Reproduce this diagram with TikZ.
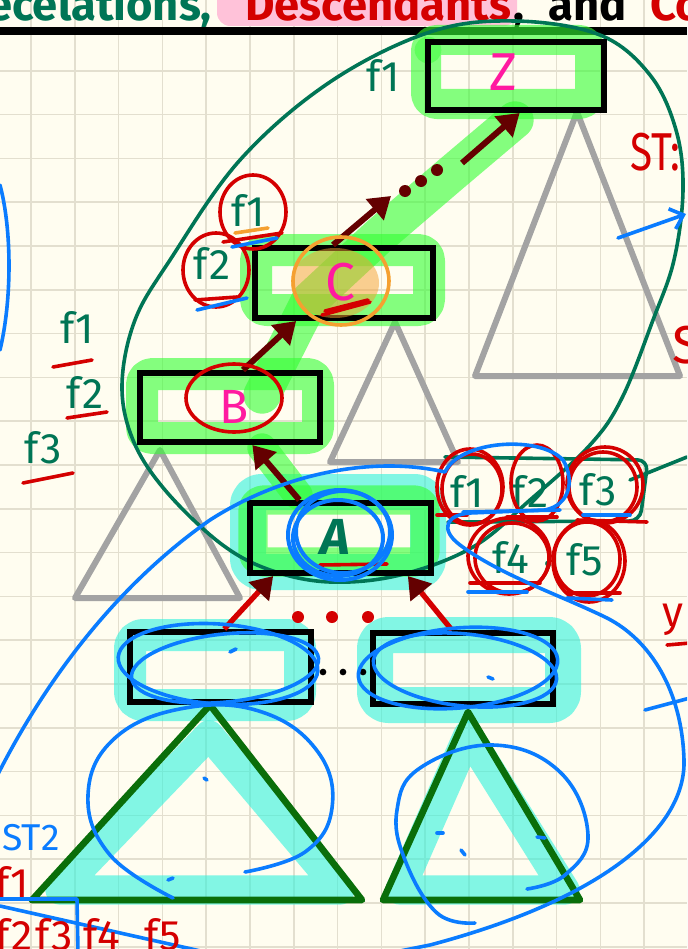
\documentclass[tikz,border=0pt]{standalone}
\usepackage{fontspec}
\setmainfont{Fira Sans}
\usetikzlibrary{arrows.meta,calc}
\definecolor{bg}{HTML}{FFFDF0}
\definecolor{gridc}{HTML}{E3DFCF}
\definecolor{hlg}{HTML}{33FF33}
\definecolor{hlc}{HTML}{30F2DC}
\definecolor{tealc}{HTML}{007555}
\definecolor{redc}{HTML}{D40000}
\definecolor{darkred}{HTML}{640000}
\definecolor{bluec}{HTML}{0A7CFF}
\definecolor{magc}{HTML}{FF1AA0}
\definecolor{grayc}{HTML}{A3A3A3}
\definecolor{dgreen}{HTML}{0A6E0A}
\definecolor{orangec}{HTML}{F5A030}
\definecolor{pinkc}{HTML}{FFC2D9}
\begin{document}
\begin{tikzpicture}[x=0.75pt,y=-0.75pt,
  gridline/.style={draw=gridc,line width=1.1pt},
  boxnode/.style={draw=black,line width=4.5pt,inner sep=0pt},
  hlgreen/.style={draw=hlg,opacity=0.6,line join=round,line cap=round},
  hlcyan/.style={draw=hlc,opacity=0.6,line join=round,line cap=round},
  graytri/.style={draw=grayc,line width=4.5pt,line join=round},
  greentri/.style={draw=dgreen,line width=5pt,line join=round},
  arrd/.style={draw=darkred,line width=4.5pt,-{Triangle[length=16pt,width=20pt]}},
  arrl/.style={draw=redc,line width=4pt,-{Triangle[length=16pt,width=20pt,color=darkred]}},
  bl/.style={draw=bluec,line width=2.7pt,line cap=round,line join=round},
  rc/.style={draw=redc,line width=2.7pt,line cap=round},
  tl/.style={draw=tealc,line width=2.7pt,line cap=round,line join=round},
  lbl/.style={inner sep=0pt,font=\fontsize{32}{32}\selectfont},
  big/.style={inner sep=0pt,font=\fontsize{40}{40}\selectfont},
  hdr/.style={inner sep=0pt,font=\fontsize{34}{34}\selectfont\bfseries},
  dotr/.style={circle,fill=#1,inner sep=0pt,minimum size=9pt},
]
\useasboundingbox (0,0) rectangle (687,949);
\clip (0,0) rectangle (687,949);
\fill[bg] (0,0) rectangle (687,949);
% grid
\foreach \i in {0,...,15} \draw[gridline] ({31+43.8*\i},0) -- ({31+43.8*\i},949);
\foreach \i in {1,...,21} \draw[gridline] (0,{27+43.8*\i}) -- (687,{27+43.8*\i});
% header
\fill[pinkc,rounded corners=10pt] (217,-20) rectangle (517,26);
\node[hdr,text=tealc,anchor=base east] (h1) at (212,21) {ecelations,};
\node[hdr,text=redc,anchor=base west] (h2) at (245,21) {Descendants};
\node[hdr,text=black,anchor=base west] (h3) at (513,21) {,};
\node[hdr,text=black,anchor=base west] (h4) at (548,21) {and};
\node[hdr,text=redc,anchor=base west] (h5) at (650,21) {Co};
\draw[black,line width=5.5pt] (0,31) -- (687,31);
% gray triangles
\draw[graytri] (160,450) -- (75,598) -- (240,598) -- cycle;
\draw[graytri] (395,322) -- (330,462) -- (458,462) -- cycle;
\draw[graytri] (577,112) -- (475,376) -- (680,376) -- cycle;
% cyan highlights
\draw[hlcyan,line width=27pt,rounded corners=10pt] (248,492) rectangle (428,572);
\draw[hlcyan,line width=24pt,rounded corners=10pt] (130,635) rectangle (300,705);
\draw[hlcyan,line width=27pt,rounded corners=10pt] (375,635) rectangle (563,705);
\draw[hlcyan,line width=22pt] (209,735) -- (60,890) -- (340,890) -- cycle;
\draw[hlcyan,line width=22pt] (468,735) -- (400,890) -- (565,890) -- cycle;
% green highlights
\draw[hlgreen,line width=22.5pt,rounded corners=8pt] (426,40) rectangle (590,104);
\draw[hlgreen,line width=24pt,rounded corners=8pt] (256,250) rectangle (429,310);
\draw[hlgreen,line width=24pt,rounded corners=8pt] (142,374) rectangle (318,438);
\draw[hlgreen,line width=22pt,rounded corners=8pt] (253,500) rectangle (425,562);
\draw[hlgreen,line width=28pt] (262,395) -- (310,300) -- (380,235) -- (450,175) -- (515,120);
\draw[hlgreen,line width=22pt] (262,448) -- (298,495);
\fill[hlg,opacity=0.45] (428,50) circle (10pt);
% teal ellipse
\draw[tl] plot[smooth cycle,tension=0.6] coordinates {(515,21) (600,35) (650,75) (676,130) (683,190) (674,260) (653,320) (622,398) (590,445) (530,500) (473,547) (400,575) (330,582) (270,570) (220,543) (165,490) (133,440) (122,385) (135,320) (170,260) (240,160) (330,82) (430,32)};
\draw[tl] (630,480) -- (687,457);
\draw[tl,rounded corners=8pt] (445,457) -- (648,460) -- (640,521) -- (448,522);
% boxes
\node[boxnode,minimum width=132pt,minimum height=51pt] (Z) at (516,76) {};
\node[boxnode,minimum width=133.5pt,minimum height=52.5pt] (C) at (344,283) {};
\node[boxnode,minimum width=135pt,minimum height=51.75pt] (B) at (230,407.5) {};
\node[boxnode,minimum width=135.75pt,minimum height=52.5pt] (A) at (340.5,538) {};
\node[boxnode,minimum width=135.75pt,minimum height=52.5pt] (L) at (220.5,667) {};
\node[boxnode,minimum width=135pt,minimum height=53.25pt] (R) at (463,668.5) {};
% green triangles
\draw[greentri] (210,705) -- (32,900) -- (362,900) -- cycle;
\draw[greentri] (468,712) -- (383,900) -- (580,900) -- cycle;
% orange fill on C
\fill[orangec,opacity=0.5] (335,283) ellipse [x radius=44, y radius=35];
% arrows
\coordinate (cd) at (391,196);
\coordinate (zd) at (462,163);
\draw[arrl] ($(L.north west)!0.52!(L.north east)$) -- ($(A.south west)!0.14!(A.south east)$);
\draw[arrl] ($(R.north west)!0.44!(R.north east)$) -- ($(A.south west)!0.86!(A.south east)$);
\draw[arrd] ($(A.north west)!0.28!(A.north east)$) -- ($(B.south west)!0.62!(B.south east)$);
\draw[arrd] ($(B.north west)!0.57!(B.north east)$) -- ($(C.south west)!0.24!(C.south east)$);
\draw[arrd] ($(C.north west)!0.44!(C.north east)$) -- (cd);
\draw[arrd] (zd) -- ($(Z.south west)!0.52!(Z.south east)$);
\node[dotr=darkred] (d1) at (405,191) {};
\node[dotr=darkred] (d2) at (421,181) {};
\node[dotr=darkred] (d3) at (437,170) {};
\node[dotr=redc] (r1) at (298,617) {};
\node[dotr=redc] (r2) at (332,617) {};
\node[dotr=redc] (r3) at (368,617) {};
\node[circle,fill=black,inner sep=0pt,minimum size=5pt] (k1) at (323,672) {};
\node[circle,fill=black,inner sep=0pt,minimum size=5pt] (k2) at (343,672) {};
\node[circle,fill=black,inner sep=0pt,minimum size=5pt] (k3) at (363,672) {};
% box letters
\node[big,text=magc] (tZ) at (503,72) {Z};
\node[big,text=magc] (tC) at (340,282) {C};
\node[big,text=magc,font=\fontsize{36}{36}\selectfont] (tB) at (234,407) {B};
\node[big,text=tealc,font=\fontsize{38}{38}\selectfont\bfseries\itshape] (tA) at (335,537) {A};
% teal labels
\node[lbl,text=tealc] (zf1) at (383,76) {f1};
\node[lbl,text=tealc] (lf1) at (77,327) {f1};
\node[lbl,text=tealc] (lf2) at (85,392) {f2};
\node[lbl,text=tealc] (lf3) at (43,448) {f3};
\node[lbl,text=tealc] (cf1) at (248,210) {f1};
\node[lbl,text=tealc] (cf2) at (212,263) {f2};
\node[lbl,text=tealc] (gf1) at (467,491) {f1};
\node[lbl,text=tealc] (gf2) at (530,491) {f2};
\node[lbl,text=tealc] (gf3) at (598,490) {f3};
\node[lbl,text=tealc] (gf4) at (511,557) {f4};
\node[lbl,text=tealc] (gcm) at (549,567) {,};
\node[lbl,text=tealc] (gf5) at (585,560) {f5};
% red underlines
\draw[rc] (53,367) -- (92,360);
\draw[rc] (67,418) -- (107,412);
\draw[rc] (23,483) -- (73,473);
\draw[rc] (223,242) -- (282,233);
\draw[rc] (195,300) -- (237,297);
\draw[rc] (322,315) -- (370,302);
\draw[rc] (325,311) -- (368,300);
\draw[rc] (320,565) -- (387,564);
\draw[rc] (437,515) -- (467,515);
\draw[rc] (507,517) -- (557,517);
\draw[rc] (577,520) -- (647,522);
\draw[rc] (470,583) -- (540,583);
\draw[rc] (567,593) -- (620,593);
% orange underline and circle
\draw[draw=orangec,line width=2.7pt,line cap=round] (235,233) -- (268,228);
\draw[draw=orangec,line width=2.7pt] (341,281) ellipse [x radius=48, y radius=44];
% red circles
\draw[rc] (253,212) ellipse [x radius=33, y radius=37];
\draw[rc] (216,270) ellipse [x radius=33, y radius=37];
\draw[rc] (234,398) ellipse [x radius=48, y radius=34];
\draw[rc] (470,487) ellipse [x radius=33, y radius=38];
\draw[rc] (472,489) ellipse [x radius=30, y radius=35];
\draw[rc] (537,483) ellipse [x radius=26, y radius=38];
\draw[rc] (605,485) ellipse [x radius=38, y radius=38];
\draw[rc] (603,487) ellipse [x radius=34, y radius=35];
\draw[rc] (509,556) ellipse [x radius=41, y radius=38];
\draw[rc] (512,558) ellipse [x radius=37, y radius=35];
\draw[rc] (589,561) ellipse [x radius=36, y radius=41];
\draw[rc] (587,559) ellipse [x radius=33, y radius=37];
% blue underlines
\draw[bl] (232,247) -- (277,238);
\draw[bl] (197,310) -- (247,298);
\draw[bl] (463,512) -- (560,510);
\draw[bl] (583,515) -- (630,515);
\draw[bl] (468,592) -- (527,592);
\draw[bl] (567,598) -- (612,600);
% blue scribble on A
\draw[bl,line width=3pt] (340,535) ellipse [x radius=52, y radius=45];
\draw[bl,line width=3pt] (343,532) ellipse [x radius=47, y radius=41];
\draw[bl,line width=3pt] (338,538) ellipse [x radius=45, y radius=38];
% blue ellipses around bottom boxes
\draw[bl,rotate around={-4:(218,664)}] (218,664) ellipse [x radius=100, y radius=40];
\draw[bl,rotate around={6:(225,668)}] (225,668) ellipse [x radius=94, y radius=34];
\draw[bl,rotate around={5:(458,668)}] (458,668) ellipse [x radius=100, y radius=40];
\draw[bl,rotate around={-6:(465,670)}] (465,670) ellipse [x radius=92, y radius=36];
\draw[bl] (230,652) -- (236,649);
\draw[bl] (488,677) -- (493,679);
% blue big outline
\draw[bl] (-5,780) .. controls (40,690) and (110,590) .. (210,520) .. controls (280,475) and (370,455) .. (445,472) .. controls (460,440) and (540,435) .. (563,460) .. controls (575,480) and (570,505) .. (545,510) -- (470,513) .. controls (445,515) and (440,530) .. (460,545) .. controls (500,575) and (560,595) .. (607,618) .. controls (650,640) and (682,690) .. (684,760) .. controls (686,830) and (600,900) .. (430,945) -- (380,955);
\draw[bl] (645,710) -- (690,698);
% circles inside triangles
\draw[bl] plot[smooth,tension=0.7] coordinates {(173,898) (110,855) (88,795) (115,738) (185,708) (262,712) (318,752) (332,808) (305,852) (245,872)};
\draw[bl] plot[smooth,tension=0.7] coordinates {(475,923) (437,913) (405,860) (397,810) (420,768) (493,745) (560,772) (588,835) (565,875) (527,889)};
\draw[bl] (204,778) -- (207,780);
\draw[bl] (168,880) -- (173,878);
\draw[bl] (437,833) -- (443,833);
\draw[bl] (461,850) -- (465,855);
\draw[bl] (537,837) -- (545,838);
% blue left arc and arrow
\draw[bl] (0,185) .. controls (12,230) and (12,300) .. (0,350);
\draw[bl,-{Straight Barb[length=9pt,width=16pt]}] (618,238) -- (686,214);
% right side red texts
\node[lbl,text=redc,anchor=west,font=\fontsize{40}{40}\selectfont] (st) at (630,152) {\scalebox{0.76}[1]{ST:}};
\node[lbl,text=redc,anchor=west,font=\fontsize{40}{40}\selectfont] (s2) at (672,345) {S};
\node[lbl,text=redc,anchor=west] (yy) at (662,620) {y};
\draw[rc] (667,645) -- (690,643);
% bottom-left
\node[lbl,text=bluec,anchor=east,font=\fontsize{28}{28}\selectfont] (st2) at (60,838) {ST2};
\node[lbl,text=redc,anchor=center] (bf1) at (12,882) {f1};
\draw[bl] (0,899) -- (77,899) -- (78,952);
\draw[bl] (0,906) -- (205,952);
\node[lbl,text=redc,anchor=north] (bf2) at (14,918) {f2};
\node[lbl,text=redc,anchor=north] (bf3) at (54,918) {f3};
\node[lbl,text=redc,anchor=north] (bf4) at (102,918) {f4};
\node[lbl,text=redc,anchor=north] (bf5) at (163,918) {f5};
\end{tikzpicture}
\end{document}
